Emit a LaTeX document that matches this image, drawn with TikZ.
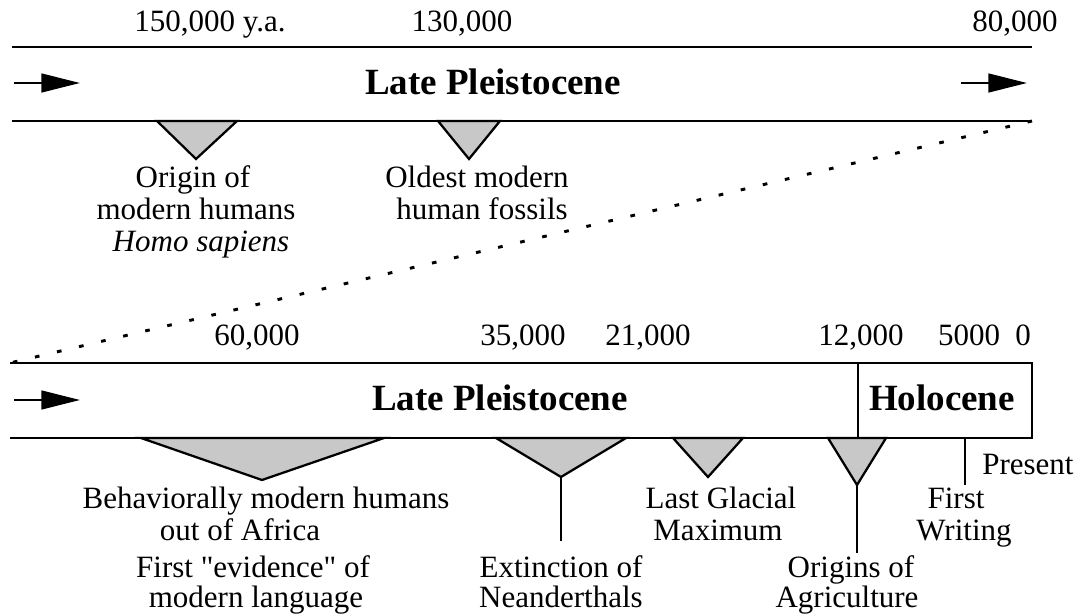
\documentclass[tikz,border=0pt]{standalone}
\usepackage{fontspec}
\setmainfont{Liberation Serif}[Ligatures=TeXOff]
\usetikzlibrary{arrows.meta}
\definecolor{triGray}{RGB}{200,200,200}
\begin{document}
\begin{tikzpicture}[x=0.75pt,y=-0.75pt,
  lbl/.style={inner sep=0pt,anchor=base,font=\fontsize{23.25pt}{24pt}\selectfont},
  era/.style={inner sep=0pt,anchor=base,font=\fontsize{27.75pt}{28pt}\selectfont\bfseries},
  band/.style={line width=1.9pt},
  tri/.style={draw,fill=triGray,line width=1.7pt,line join=miter},
  tickline/.style={line width=1.6pt},
  arr/.style={line width=1.9pt,-{Triangle[length=29pt,width=14pt]}},
  dots/.style={line width=2.2pt,dash pattern=on 3.5pt off 13.5pt}]
\useasboundingbox (0,0) rectangle (1081,616);

% ---------- top band ----------
\coordinate (t1l) at (12,47);
\coordinate (t1r) at (1032,47);
\coordinate (b1l) at (12,121);
\coordinate (b1r) at (1032,121);
\draw[band] (t1l) -- (t1r);
\draw[band] (b1l) -- (b1r);
\coordinate (a1s) at (14,83);
\coordinate (a1e) at (80,83);
\coordinate (a2s) at (961,83);
\coordinate (a2e) at (1027,83);
\draw[arr] (a1s) -- (a1e);
\draw[arr] (a2s) -- (a2e);

\node[lbl] (n150) at (210,32) {150,000 y.a.};
\node[lbl] (n130) at (462,32) {130,000};
\node[lbl] (n80) at (1015,32) {80,000};
\node[era] (lp1) at (493,95) {Late Pleistocene};

\draw[tri] (157,121) -- (237,121) -- (196,159) -- cycle;
\draw[tri] (438,121) -- (500,121) -- (469,159) -- cycle;

\node[lbl] (or1) at (193,188) {Origin of};
\node[lbl] (or2) at (196,220) {modern humans};
\node[lbl] (or3) at (201,252) {\itshape Homo sapiens};
\node[lbl] (ol1) at (477,188) {Oldest modern};
\node[lbl] (ol2) at (482,220) {human fossils};

% ---------- dotted connector ----------
\coordinate (t2l) at (10,363);
\coordinate (t2r) at (1032,363);
\coordinate (b2l) at (10,438);
\coordinate (b2r) at (1032,438);
\draw[dots] (b1r) -- (t2l);

% ---------- bottom band ----------
\draw[band] (t2l) -- (t2r) -- (b2r) -- (b2l);
\coordinate (hs) at (858,363);
\coordinate (he) at (858,438);
\draw[band] (hs) -- (he);
\coordinate (a3s) at (14,400);
\coordinate (a3e) at (80,400);
\draw[arr] (a3s) -- (a3e);

\node[lbl] (n60) at (257,345) {60,000};
\node[lbl] (n35) at (523,345) {35,000};
\node[lbl] (n21) at (648,345) {21,000};
\node[lbl] (n12) at (861,345) {12,000};
\node[lbl] (n5) at (969,345) {5000};
\node[lbl] (n0) at (1023,345) {0};
\node[era] (lp2) at (500,410) {Late Pleistocene};
\node[era] (hol) at (942,410) {Holocene};

\draw[tri] (141,438) -- (384,438) -- (262,480) -- cycle;
\draw[tri] (496,438) -- (626,438) -- (561,477) -- cycle;
\draw[tri] (673,438) -- (743,438) -- (708,477) -- cycle;
\draw[tri] (828,438) -- (886,438) -- (857,485) -- cycle;

\coordinate (exA) at (561,477);
\coordinate (exE) at (561,541);
\draw[tickline] (exA) -- (exE);
\coordinate (agA) at (857,485);
\coordinate (agE) at (857,553);
\draw[tickline] (agA) -- (agE);
\coordinate (prA) at (965,438);
\coordinate (prE) at (965,485);
\draw[tickline] (prA) -- (prE);

\node[lbl] (bm1) at (266,508) {Behaviorally modern humans};
\node[lbl] (bm2) at (240,540) {out of Africa};
\node[lbl] (fe1) at (253,577) {First "evidence" of};
\node[lbl] (fe2) at (256,607) {modern language};
\node[lbl] (ex1) at (561,577) {Extinction of};
\node[lbl] (ex2) at (561,607) {Neanderthals};
\node[lbl] (lg1) at (721,508) {Last Glacial};
\node[lbl] (lg2) at (718,540) {Maximum};
\node[lbl] (ag1) at (851,577) {Origins of};
\node[lbl] (ag2) at (847,607) {Agriculture};
\node[lbl,anchor=base west] (pres) at (982,474) {Present};
\node[lbl] (fw1) at (956,508) {First};
\node[lbl] (fw2) at (964,540) {Writing};
\end{tikzpicture}
\end{document}
